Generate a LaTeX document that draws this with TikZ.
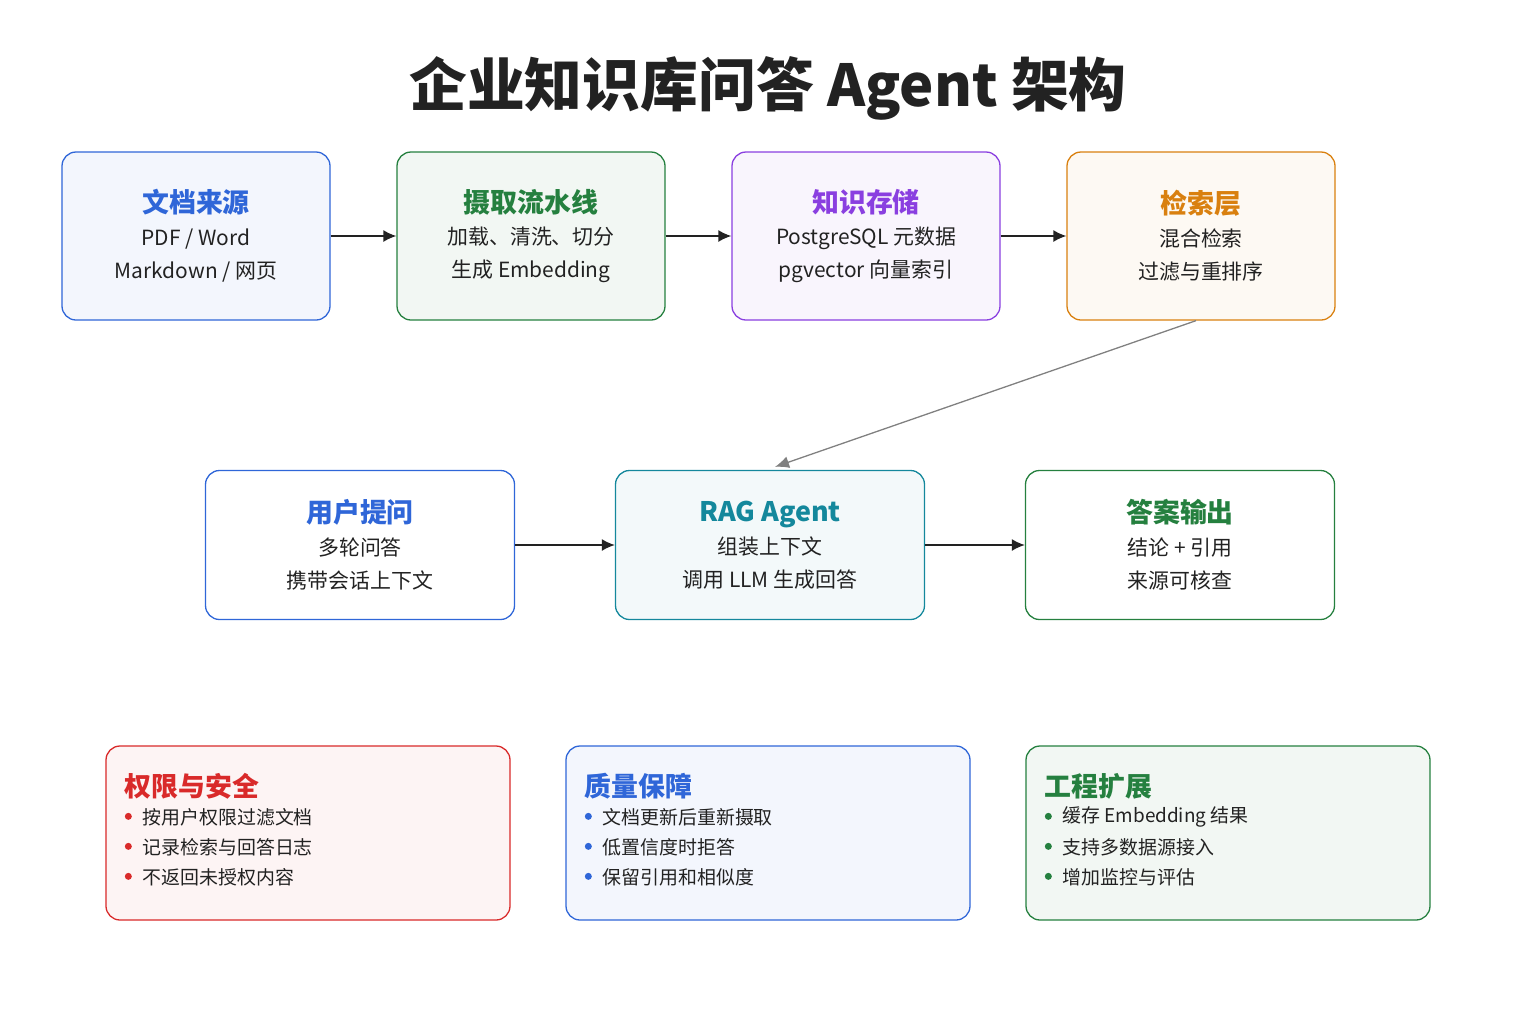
\documentclass[tikz,border=0pt]{standalone}
\usepackage{fontspec}
\setmainfont{Noto Sans CJK SC}
\usetikzlibrary{positioning, calc, arrows.meta}

\definecolor{cblue}{HTML}{2F66D8}
\definecolor{cgreen}{HTML}{25803F}
\definecolor{cpurple}{HTML}{8A3FE0}
\definecolor{corange}{HTML}{D9800F}
\definecolor{cteal}{HTML}{14889C}
\definecolor{cred}{HTML}{D92A2A}
\definecolor{ctext}{HTML}{222222}

\tikzset{
  box/.style={draw=#1, line width=1.3pt, rounded corners=14bp, minimum width=268bp, minimum height=168bp, align=center, text=ctext, font=\fontsize{21}{33}\selectfont},
  flow/.style={-{Latex[length=13bp,width=12bp]}, line width=1.6pt, draw=ctext},
  head/.style={font=\fontsize{27}{30}\selectfont\bfseries, text=#1},
  item/.style={anchor=west, font=\fontsize{19}{20}\selectfont, text=ctext, inner sep=0pt},
  dot/.style={circle, fill=#1, inner sep=0pt, minimum size=7bp}
}
\newcommand{\hd}[2]{\textcolor{#1}{\fontsize{27}{33}\selectfont\bfseries #2}}

\begin{document}
\begin{tikzpicture}[x=1bp, y=-1bp]
\useasboundingbox (0,0) rectangle (1536,1024);

% title
\node (title) at (768,88) {\fontsize{58}{64}\selectfont\bfseries\color{ctext}企业知识库问答 Agent 架构};

% top row
\node[box=cblue, fill=cblue!6] (src) at (196,236) {\hd{cblue}{文档来源}\\PDF / Word\\Markdown / 网页};
\node[box=cgreen, fill=cgreen!6] (ingest) at (531,236) {\hd{cgreen}{摄取流水线}\\加载、清洗、切分\\生成 Embedding};
\node[box=cpurple, fill=cpurple!5] (store) at (866,236) {\hd{cpurple}{知识存储}\\PostgreSQL 元数据\\pgvector 向量索引};
\node[box=corange, fill=corange!5] (retr) at (1201,236) {\hd{corange}{检索层}\\混合检索\\过滤与重排序};

% middle row
\node[box=cblue, fill=white, minimum width=309bp, minimum height=149bp] (user) at (360,545) {\hd{cblue}{用户提问}\\多轮问答\\携带会话上下文};
\node[box=cteal, fill=cteal!5, minimum width=309bp, minimum height=149bp] (rag) at (770,545) {\hd{cteal}{RAG Agent}\\组装上下文\\调用 LLM 生成回答};
\node[box=cgreen, fill=white, minimum width=309bp, minimum height=149bp] (ans) at (1180,545) {\hd{cgreen}{答案输出}\\结论 + 引用\\来源可核查};

\draw[flow] (src) -- (ingest);
\draw[flow] (ingest) -- (store);
\draw[flow] (store) -- (retr);
\draw[flow] (user) -- (rag);
\draw[flow] (rag) -- (ans);
\draw[-{Latex[length=14bp,width=12bp]}, line width=1.3pt, draw=gray] ($(retr.south)+(-5,0)$) -- ($(rag.north)+(5,-3)$);

% bottom row
\node[box=cred, fill=cred!5, minimum width=404bp, minimum height=174bp] (sec) at (308,833) {};
\node[box=cblue, fill=cblue!6, minimum width=404bp, minimum height=174bp] (qa) at (768,833) {};
\node[box=cgreen, fill=cgreen!6, minimum width=404bp, minimum height=174bp] (eng) at (1228,833) {};

\foreach \b/\c/\t/\i/\j/\k in {
  sec/cred/权限与安全/按用户权限过滤文档/记录检索与回答日志/不返回未授权内容,
  qa/cblue/质量保障/文档更新后重新摄取/低置信度时拒答/保留引用和相似度,
  eng/cgreen/工程扩展/缓存 Embedding 结果/支持多数据源接入/增加监控与评估} {
  \node[head=\c, anchor=west, inner sep=0pt] (\b-head) at ($(\b.north west)+(19,41)$) {\t};
  \node[dot=\c] at ($(\b.north west)+(23,71)$) {};
  \node[item] at ($(\b.north west)+(37,72)$) {\i};
  \node[dot=\c] at ($(\b.north west)+(23,101)$) {};
  \node[item] at ($(\b.north west)+(37,102)$) {\j};
  \node[dot=\c] at ($(\b.north west)+(23,131)$) {};
  \node[item] at ($(\b.north west)+(37,132)$) {\k};
}
\end{tikzpicture}
\end{document}
